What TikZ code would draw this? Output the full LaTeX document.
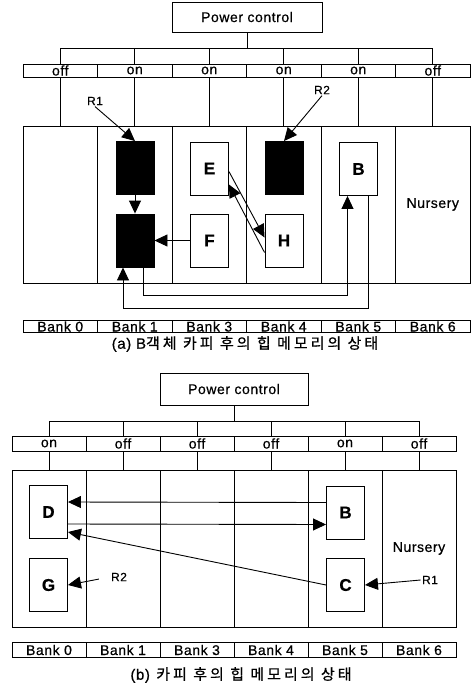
\documentclass[tikz,border=0pt]{standalone}
\usepackage{fontspec}
\setmainfont{Liberation Sans}[LetterSpace=4,FakeBold=0.6]
\newfontfamily\kr{Noto Sans CJK KR}[LetterSpace=20,FakeBold=0.8]
\usetikzlibrary{arrows.meta}
\begin{document}
\begin{tikzpicture}[x=1pt,y=-1pt,line width=0.9pt,
  cell/.style={draw,inner sep=0pt,minimum width=74.5pt,font=\fontsize{14}{14}\selectfont},
  pwr/.style={draw,minimum width=150pt,minimum height=30pt,font=\fontsize{14}{14}\selectfont},
  obj/.style={draw,fill=white,minimum width=38pt,minimum height=53pt,font=\fontsize{17}{17}\selectfont\bfseries},
  blk/.style={obj,fill=black},
  lbl/.style={inner sep=1pt,font=\fontsize{12}{12}\selectfont},
  captxt/.style={font=\kr\fontsize{15}{15}\selectfont},
  arr/.style={-{Triangle[length=13pt,width=12pt]}}]
\useasboundingbox (0,0) rectangle (472,689);
% (a)
\node[pwr] (pa) at (247,17) {Power control};
\foreach \sw [count=\i from 0] in {off,on,on,on,on,off}{
  \node[cell,minimum height=13pt] (sa\i) at (60.25+74.5*\i,70.5) {\sw};
  \node[cell,minimum height=157pt] (ma\i) at (60.25+74.5*\i,204.5) {};
  \draw (pa.south) -- ++(0,16) -| (sa\i.north); \draw (sa\i.south) -- (ma\i.north);}
\foreach \bk [count=\i from 0] in {Bank 0,Bank 1,Bank 3,Bank 4,Bank 5,Bank 6}{
  \node[cell,minimum height=12pt] (ka\i) at (60.25+74.5*\i,326.5) {\bk};}
\node[font=\fontsize{14}{14}\selectfont] (nura) at (ma5) {Nursery};
\node[blk] (blka) at (135,168) {}; \node[blk] (blkb) at (135,240.5) {}; \node[blk] (blkc) at (284,168) {};
\node[obj] (ea) at (209.5,168.5) {E}; \node[obj] (fa) at (209.5,240.5) {F};
\node[obj] (ha) at (284,240.5) {H}; \node[obj] (ba) at (358.5,169) {B};
\node[lbl] (r1a) at (95,101) {R1}; \node[lbl] (r2a) at (322,90) {R2};
\draw[arr] (r1a.south) -- (blka.north); \draw[arr] (r2a.south) -- (blkc.north);
\draw[arr] (blka) -- (blkb); \draw[arr] (fa) -- (blkb);
\draw[arr] ([yshift=-3pt]ea.east) -- ([yshift=3pt]ha.west);
\draw[arr] ([yshift=-12pt]ha.west) -- ([yshift=-16pt]ea.east);
\draw[arr] ([xshift=8pt]blkb.south) -- ++(0,28) -| ([xshift=-11pt]ba.south);
\draw[arr] ([xshift=10pt]ba.south) -- ++(0,112) -| ([xshift=-12pt]blkb.south);
\node[captxt] (capa) at (245,344) {{\normalfont(a) B}객체 카피 후의 힙 메모리의 상태};
% (b)
\node[pwr,minimum width=148pt,minimum height=32pt] (pb) at (234,389) {Power control};
\foreach \sw [count=\i from 0] in {on,off,off,off,on,off}{
  \node[cell,minimum width=74pt,minimum height=15pt] (sb\i) at (49+74*\i,443.5) {\sw};
  \node[cell,minimum width=74pt,minimum height=157pt] (mb\i) at (49+74*\i,548.5) {};
  \draw (pb.south) -- ++(0,16) -| (sb\i.north); \draw (sb\i.south) -- (mb\i.north);}
\foreach \bk [count=\i from 0] in {Bank 0,Bank 1,Bank 3,Bank 4,Bank 5,Bank 6}{
  \node[cell,minimum width=74pt,minimum height=15pt] (kb\i) at (49+74*\i,650) {\bk};}
\node[font=\fontsize{14}{14}\selectfont] (nurb) at (mb5) {Nursery};
\node[obj] (db) at (48.5,512) {D}; \node[obj] (bb) at (345.5,512.5) {B};
\node[obj] (gb) at (48.5,585) {G}; \node[obj] (cb) at (345.5,585) {C};
\node[lbl] (r2b) at (119,577) {R2}; \node[lbl] (r1b) at (430,580) {R1};
\draw[arr] ([yshift=10pt]bb.west) -- ([yshift=10pt]db.east);
\draw[arr] ([yshift=-12pt]db.east) -- ([yshift=-12pt]bb.west);
\draw[arr] (cb.west) -- ([yshift=-20pt]db.east);
\draw[arr,shorten <=11pt] (r2b.west) -- (gb.east); \draw[arr] (r1b.west) -- (cb.east);
\node[captxt] (capb) at (241,675) {{\normalfont(b)} 카피 후의 힙 메모리의 상태};
\end{tikzpicture}
\end{document}
